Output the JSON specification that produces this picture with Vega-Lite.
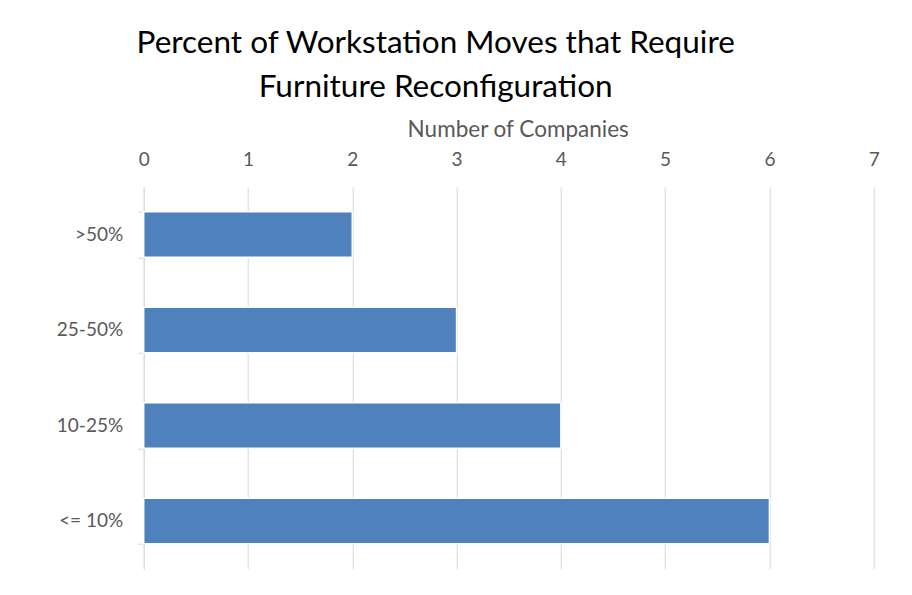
{
  "$schema": "https://vega.github.io/schema/vega-lite/v6.json",
  "autosize": {"type": "none"},
  "width": 730,
  "height": 382,
  "padding": {"left": 143.7, "top": 186.7, "right": 38.3, "bottom": 26.3},
  "background": "white",
  "config": {
    "view": {"stroke": null},
    "font": "Lato"
  },
  "title": {
    "text": ["Percent of Workstation Moves that Require", "Furniture Reconfiguration"],
    "font": "Lato",
    "fontSize": 31.5,
    "fontWeight": "normal",
    "color": "#000000",
    "anchor": "middle",
    "frame": "group",
    "dx": -73,
    "lineHeight": 44,
    "offset": 15
  },
  "data": {
    "values": [
      {"range": ">50%", "companies": 2},
      {"range": "25-50%", "companies": 3},
      {"range": "10-25%", "companies": 4},
      {"range": "<= 10%", "companies": 6}
    ]
  },
  "mark": {"type": "bar", "color": "#4f81bd", "stroke": "white", "strokeWidth": 1.5},
  "encoding": {
    "y": {
      "field": "range",
      "type": "nominal",
      "sort": null,
      "scale": {"paddingInner": 0.523, "paddingOuter": 0.2615},
      "axis": {
        "title": null,
        "orient": "left",
        "domain": true,
        "domainColor": "#d9d9d9",
        "domainWidth": 1,
        "ticks": true,
        "tickBand": "extent",
        "tickColor": "#d9d9d9",
        "tickSize": 6,
        "labelPadding": 15,
        "labelFont": "Lato",
        "labelFontSize": 19,
        "labelColor": "#595959",
        "grid": false
      }
    },
    "x": {
      "field": "companies",
      "type": "quantitative",
      "scale": {"domain": [0, 7], "nice": false},
      "axis": {
        "orient": "top",
        "values": [0, 1, 2, 3, 4, 5, 6, 7],
        "title": "Number of Companies",
        "titleFont": "Lato",
        "titleFontSize": 22.5,
        "titleFontWeight": "normal",
        "titleColor": "#595959",
        "titlePadding": 9,
        "titleX": 374,
        "domain": false,
        "ticks": false,
        "tickSize": 0,
        "labelBaseline": "alphabetic",
        "labelPadding": 21.7,
        "labelFont": "Lato",
        "labelFontSize": 19,
        "labelColor": "#595959",
        "labelFlush": false,
        "grid": true,
        "gridColor": "#d9d9d9",
        "gridWidth": 1
      }
    }
  }
}
